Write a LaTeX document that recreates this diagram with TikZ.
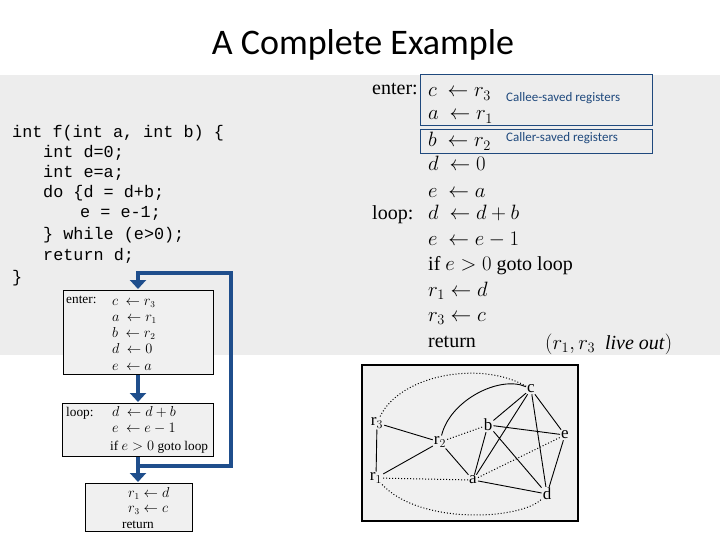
\documentclass[tikz,border=0pt]{standalone}
\usepackage{fontspec}
\setmainfont{Liberation Serif}
\newfontfamily\calfnt{Carlito}
\newfontfamily\monofnt{Liberation Mono}
\usetikzlibrary{arrows.meta}
\definecolor{bb}{HTML}{1F4E8C}
\definecolor{lb}{HTML}{1F497D}
\tikzset{
 code/.style={anchor=base west,font=\monofnt\fontsize{16.8}{17}\selectfont,inner sep=0},
 asm/.style={anchor=base west,font=\fontsize{20}{20}\selectfont,inner sep=0},
 sasm/.style={anchor=base west,font=\fontsize{13.3}{14}\selectfont,inner sep=0},
 blk/.style={draw=black,fill=gray!12,line width=1pt},
 flow/.style={draw=bb,line width=4.5pt,-{Triangle[length=9pt,width=16pt]}},
 gn/.style={font=\fontsize{17}{17}\selectfont,inner sep=1pt},
 ge/.style={line width=0.9pt},
 gd/.style={line width=1pt,dotted},
 reg/.style={anchor=west,font=\calfnt\fontsize{13}{13}\selectfont,text=lb,inner sep=0}
}
\begin{document}
\begin{tikzpicture}[x=1pt,y=-1pt]
\useasboundingbox (0,0) rectangle (720,540);
\fill[white] (0,0) rectangle (720,540);
\fill[gray!14] (0,75) rectangle (720,355);
\node[font=\calfnt\fontsize{36}{36}\selectfont] (title) at (363,45) {A Complete Example};
% C code
\node[code] (l1) at (12,138) {int f(int a, int b) \{};
\node[code] (l2) at (43,158) {int d=0;};
\node[code] (l3) at (43,178) {int e=a;};
\node[code] (l4) at (43,198) {do \{d = d+b;};
\node[code] (l5) at (80,218) {e = e-1;};
\node[code] (l6) at (43,240) {\} while (e>0);};
\node[code] (l7) at (43,260) {return d;};
\node[code] (l8) at (12,282) {\}};
% assembly
\node[asm] (en) at (372,95) {enter:};
\node[asm] (s1) at (428,97) {$c\ \leftarrow r_3$};
\node[asm] (s2) at (428,120) {$a\ \leftarrow r_1$};
\node[asm] (s3) at (428,147) {$b\ \leftarrow r_2$};
\node[asm] (s4) at (428,171) {$d\ \leftarrow 0$};
\node[asm] (s5) at (428,197) {$e\ \leftarrow a$};
\node[asm] (lp) at (372,220) {loop:};
\node[asm] (s6) at (428,220) {$d\ \leftarrow d+b$};
\node[asm] (s7) at (428,245) {$e\ \leftarrow e-1$};
\node[asm] (s8) at (428,270) {if $e>0$ goto loop};
\node[asm] (s9) at (428,296) {$r_1\leftarrow d$};
\node[asm] (s10) at (428,321) {$r_3\leftarrow c$};
\node[asm] (s11) at (428,347) {return};
\node[asm] (lo) at (545,349) {$(r_1,r_3$\ \ \textit{live out}$)$};
\draw[lb,line width=0.8pt] (420,74) rectangle (652,125);
\draw[lb,line width=0.8pt] (420,129) rectangle (652,153);
\node[reg] (ce) at (506,98) {Callee-saved registers};
\node[reg] (cr) at (506,138) {Caller-saved registers};
% CFG blocks
\draw[blk] (63,290) rectangle (213,374);
\draw[blk] (62,403) rectangle (213,456);
\draw[blk] (85,483) rectangle (192,531);
\node[sasm] (b1) at (66,303) {enter:};
\node[sasm] (b1a) at (112,305) {$c\ \leftarrow r_3$};
\node[sasm] (b1b) at (112,321) {$a\ \leftarrow r_1$};
\node[sasm] (b1c) at (112,337) {$b\ \leftarrow r_2$};
\node[sasm] (b1d) at (112,353) {$d\ \leftarrow 0$};
\node[sasm] (b1e) at (112,370) {$e\ \leftarrow a$};
\node[sasm] (b2) at (66,416) {loop:};
\node[sasm] (b2a) at (112,416) {$d\ \leftarrow d+b$};
\node[sasm] (b2b) at (112,432) {$e\ \leftarrow e-1$};
\node[sasm] (b2c) at (110,450) {if $e>0$ goto loop};
\node[sasm] (b3a) at (128,497) {$r_1\leftarrow d$};
\node[sasm] (b3b) at (128,512) {$r_3\leftarrow c$};
\node[sasm,anchor=base] (b3c) at (138,528) {return};
\coordinate (t1) at (138,289);
\coordinate (t2) at (138,402);
\coordinate (t3) at (138,482);
\draw[flow] (138,375) -- (t2);
\draw[flow] (138,457) -- (t3);
\draw[flow,-] (138,457) -- (138,466) -- (231,466) -- (231,273) -- (138,273) -- (138,278);
\draw[flow] (138,275) -- (t1);
% graph
\draw[fill=gray!12,line width=2pt] (362,365) rectangle (578,521);
\node[gn] (c) at (531,389) {c};
\node[gn] (b) at (488,425) {b};
\node[gn] (e) at (565,435) {e};
\node[gn] (r3) at (377,423) {r$_3$};
\node[gn] (r2) at (440,442) {r$_2$};
\node[gn] (a) at (473,480) {a};
\node[gn] (r1) at (376,478) {r$_1$};
\node[gn] (d) at (547,494) {d};
\draw[ge] (r3)--(r1) (r3)--(r2) (r1)--(r2) (r2)--(a) (c)--(b) (c)--(e) (c)--(a) (c)--(d)
 (b)--(e) (b)--(a) (b)--(d) (a)--(d) (e)--(d);
\draw[ge] (r2) .. controls (450,400) and (500,375) .. (c);
\draw[gd] (r2)--(b) (r1)--(a) (a)--(e);
\draw[gd] (r3) .. controls (400,375) and (480,360) .. (c);
\draw[gd] (r1) .. controls (420,525) and (520,520) .. (d);
\end{tikzpicture}
\end{document}
